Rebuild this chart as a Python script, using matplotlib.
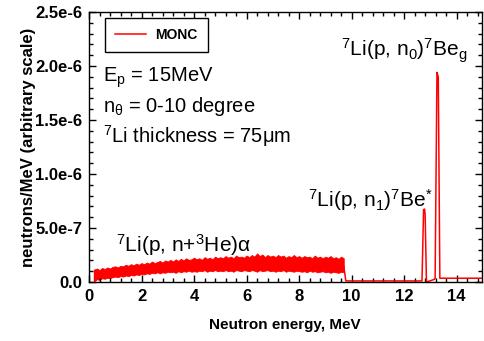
import matplotlib
matplotlib.use("Agg")
import matplotlib.pyplot as plt
import numpy as np

plt.rcParams['font.family'] = ['Liberation Sans', 'DejaVu Sans']
plt.rcParams['mathtext.fontset'] = 'custom'
plt.rcParams['mathtext.rm'] = 'Liberation Sans'
plt.rcParams['mathtext.it'] = 'Liberation Sans:italic'
plt.rcParams['mathtext.bf'] = 'Liberation Sans:bold'

# continuum band of 7Li(p, n+3He)alpha: 0.1 MeV bins from 0.2 to 9.7 MeV,
# upper / lower edge of the noisy band (units 1e-7)
band_e = np.round(np.arange(0.2, 9.75, 0.1), 2)
band_hi = [1.15, 1.25, 1.1, 1.3, 1.2, 1.35, 1.25, 1.4, 1.45,
           1.35, 1.5, 1.45, 1.6, 1.5, 1.65, 1.55, 1.7, 1.6, 1.75,
           1.65, 1.8, 1.7, 1.9, 1.75, 1.85, 1.95, 1.8, 2.0, 1.9,
           2.05, 1.9, 2.1, 1.95, 2.15, 2.0, 2.2, 2.05, 2.1, 2.25,
           2.1, 2.2, 2.05, 2.3, 2.15, 2.25, 2.1, 2.35, 2.2, 2.3,
           2.2, 2.4, 2.25, 2.35, 2.2, 2.45, 2.3, 2.35, 2.25, 2.45,
           2.3, 2.5, 2.35, 2.65, 2.4, 2.55, 2.3, 2.5, 2.35, 2.45,
           2.3, 2.5, 2.35, 2.45, 2.25, 2.4, 2.3, 2.5, 2.3, 2.4,
           2.25, 2.4, 2.3, 2.35, 2.2, 2.45, 2.25, 2.35, 2.2, 2.35,
           2.25, 2.4, 2.2, 2.3, 2.15, 2.35, 2.2]
band_lo = [0.1, 0.25, 0.2, 0.35, 0.3, 0.4, 0.35, 0.45, 0.5,
           0.45, 0.55, 0.5, 0.6, 0.55, 0.65, 0.6, 0.7, 0.65, 0.75,
           0.7, 0.8, 0.75, 0.85, 0.8, 0.9, 0.8, 0.9, 0.85, 0.95,
           0.9, 0.95, 0.85, 1.0, 0.9, 1.0, 0.95, 1.05, 0.95, 1.0,
           0.95, 1.05, 1.0, 1.1, 0.95, 1.05, 1.0, 1.1, 1.0, 1.05,
           1.0, 1.1, 1.0, 1.05, 0.95, 1.1, 1.05, 1.0, 1.1, 1.05,
           1.0, 1.1, 1.05, 0.95, 1.1, 1.0, 1.05, 1.1, 1.0, 1.05,
           0.95, 1.05, 1.0, 1.1, 0.95, 1.05, 1.0, 0.95, 1.05, 1.0,
           0.95, 1.0, 0.9, 1.05, 0.95, 1.0, 0.9, 0.95, 1.0, 0.9,
           0.95, 0.85, 0.95, 0.9, 0.85, 0.95, 0.9]

# discrete lines n1 and n0 (units 1e-7)
line_e = [9.7, 9.78, 10.0, 11.0, 12.0, 12.68, 12.74, 12.78, 12.8, 12.85, 13.1, 13.18,
          13.25, 13.3, 13.36, 14.0, 15.0]
line_v = [1.5, 0.1, 0.1, 0.1, 0.1, 0.1, 6.7, 6.75, 6.2, 0.0, 0.2, 0.3,
          19.4, 19.0, 0.35, 0.35, 0.35]

yticks = [0, 5e-7, 1e-6, 1.5e-6, 2e-6, 2.5e-6]
ytick_labels = ['0.0', '5.0e-7', '1.0e-6', '1.5e-6', '2.0e-6', '2.5e-6']
xticks = [0, 2, 4, 6, 8, 10, 12, 14]

red = '#ff0000'
fig = plt.figure(figsize=(4.85, 3.41), dpi=100)
ax = fig.add_axes([0.1835, 0.173, 0.8095, 0.792])

ax.fill_between(band_e, np.array(band_lo) * 1e-7, np.array(band_hi) * 1e-7,
                color=red, lw=0.6, edgecolor=red)
ax.plot([band_e[0], band_e[0]], [band_lo[0] * 1e-7, band_hi[0] * 1e-7], color=red, lw=1)
ax.plot(np.array(line_e), np.array(line_v) * 1e-7, color=red, lw=1.1, label='MONC')

ax.set_xlim(0, 14.95)
ax.set_ylim(0, 2.5e-6)
ax.set_xticks(xticks)
ax.set_xticklabels([str(t) for t in xticks])
ax.set_yticks(yticks)
ax.set_yticklabels(ytick_labels)
ax.xaxis.set_minor_locator(matplotlib.ticker.MultipleLocator(0.4))
ax.yaxis.set_minor_locator(matplotlib.ticker.MultipleLocator(1e-7))
ax.tick_params(which='both', direction='in', top=True, right=True, width=1)
ax.tick_params(which='major', length=5, labelsize=12, pad=5)
ax.tick_params(which='minor', length=3)
for lbl in ax.get_xticklabels() + ax.get_yticklabels():
    lbl.set_fontweight('bold')
for s in ax.spines.values():
    s.set_linewidth(1)

ax.set_xlabel('Neutron energy, MeV', fontsize=11, fontweight='bold', labelpad=10)
ax.set_ylabel('neutrons/MeV (arbitrary scale)', fontsize=12, fontweight='bold', labelpad=-1)

tr = ax.transAxes
ax.text(0.036, 0.742, r'E$_\mathregular{p}$ = 15MeV', fontsize=14.5, transform=tr)
ax.text(0.036, 0.631, r'n$_\mathregular{θ}$ = 0-10 degree', fontsize=14.5, transform=tr)
ax.text(0.036, 0.514, r'$^\mathregular{7}$Li thickness = 75μm', fontsize=14.5, transform=tr)
ax.text(0.070, 0.112, r'$^\mathregular{7}$Li(p, n+$^\mathregular{3}$He)α', fontsize=15, transform=tr)
ax.text(0.558, 0.279, r'$^\mathregular{7}$Li(p, n$_\mathregular{1}$)$^\mathregular{7}$Be$^\mathregular{*}$',
        fontsize=15, transform=tr)
ax.text(0.643, 0.834, r'$^\mathregular{7}$Li(p, n$_\mathregular{0}$)$^\mathregular{7}$Be$_\mathregular{g}$',
        fontsize=15, transform=tr)

leg = ax.legend(loc='upper left', bbox_to_anchor=(0.041, 0.978), borderaxespad=0,
                fancybox=False, edgecolor='black', framealpha=1, handlelength=2.2,
                handletextpad=0.7, borderpad=0.72, prop={'weight': 'bold', 'size': 10})
leg.get_frame().set_linewidth(1)

fig.savefig('out.png', dpi=100)
